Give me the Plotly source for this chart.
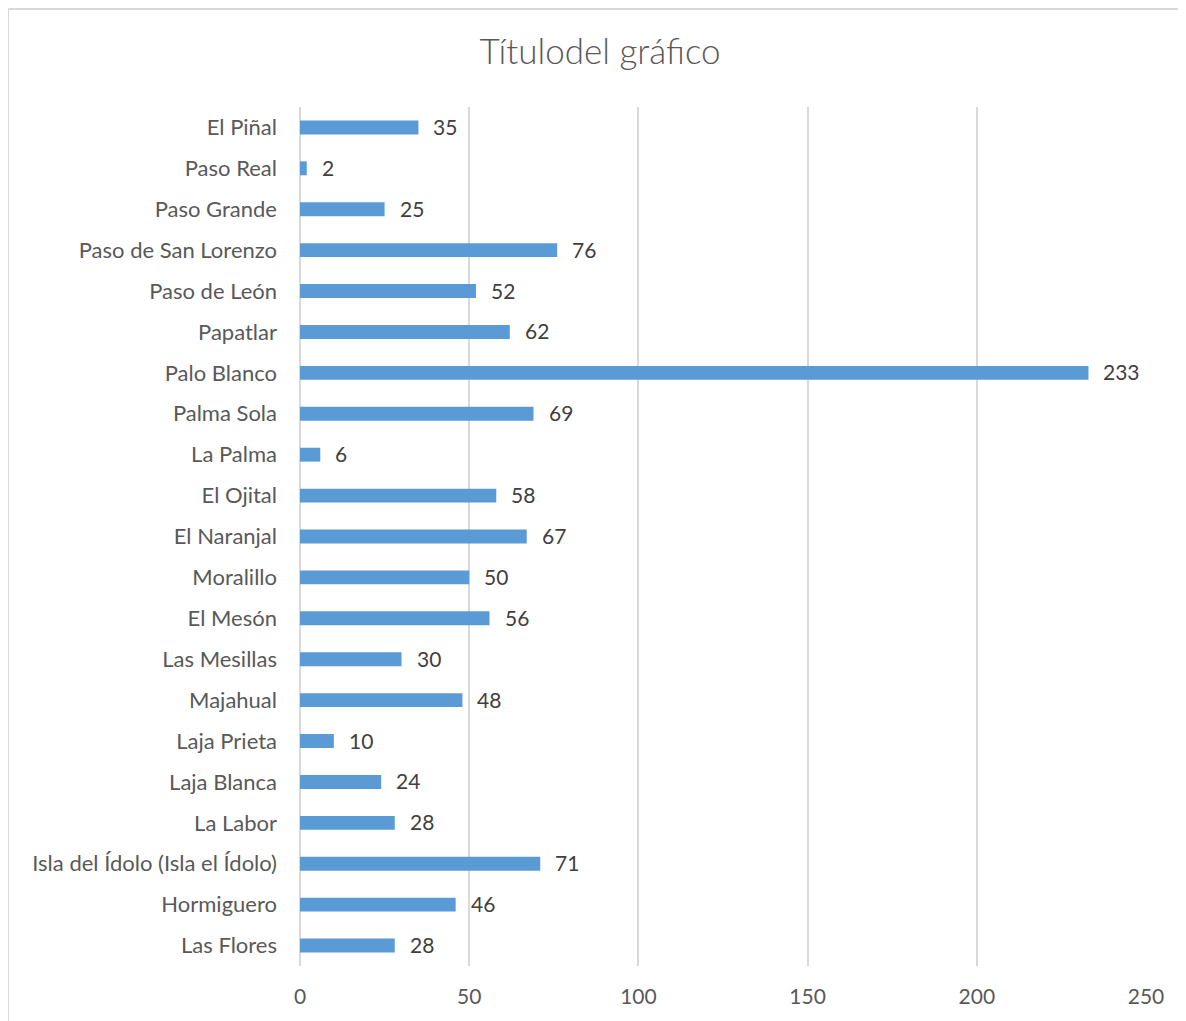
import plotly.graph_objects as go

# categories listed bottom to top, as drawn
categories = ['Las Flores', 'Hormiguero', 'Isla del Ídolo (Isla el Ídolo)', 'La Labor',
              'Laja Blanca', 'Laja Prieta', 'Majahual', 'Las Mesillas', 'El Mesón',
              'Moralillo', 'El Naranjal', 'El Ojital', 'La Palma', 'Palma Sola',
              'Palo Blanco', 'Papatlar', 'Paso de León', 'Paso de San Lorenzo',
              'Paso Grande', 'Paso Real', 'El Piñal']
values = [28, 46, 71, 28, 24, 10, 48, 30, 56, 50, 67, 58, 6, 69, 233, 62, 52, 76, 25, 2, 35]
x_ticks = [0, 50, 100, 150, 200, 250]

font_family = 'Lato, Open Sans, sans-serif'
text_grey = '#595959'
grid_grey = '#D9D9D9'

# page body has an 8px margin, so the figure is shrunk by that much
W, H = 1178, 1013

fig = go.Figure()
fig.add_trace(go.Bar(
    x=values, y=categories, orientation='h',
    marker=dict(color='#5B9BD5', line_width=0),
    width=0.34,
    hoverinfo='x+y',
))

# data labels to the right of each bar
annotations = []
for c, v in zip(categories, values):
    annotations.append(dict(x=v, y=c, xref='x', yref='y', text=str(v),
                            xanchor='left', yanchor='middle', xshift=13, yshift=1,
                            showarrow=False,
                            font=dict(family=font_family, size=21, color='#404040')))

# chart border (only top and left are visible in the crop)
bx = (8 - 300) / 846
by = 1 + (107 - 9) / 859
shapes = [
    dict(type='line', xref='paper', yref='paper', x0=bx, x1=bx, y0=-1, y1=by,
         line=dict(color=grid_grey, width=2)),
    dict(type='line', xref='paper', yref='paper', x0=bx, x1=2, y0=by, y1=by,
         line=dict(color=grid_grey, width=2)),
]

fig.update_layout(
    width=W, height=H,
    margin=dict(l=292, r=40, t=99, b=55),
    paper_bgcolor='white', plot_bgcolor='white',
    showlegend=False,
    title=dict(text='Títulodel gráfico', x=(600 - 8) / W, xref='container', xanchor='center',
               y=1 - 44 / H, yref='container', yanchor='middle',
               font=dict(family=font_family, size=35, color=text_grey, weight=300)),
    xaxis=dict(range=[0, 250], tickvals=x_ticks, showgrid=True, gridcolor=grid_grey,
               gridwidth=1.5, zeroline=True, zerolinecolor=grid_grey, zerolinewidth=1.5,
               showline=False, ticks='', ticklabelstandoff=16, fixedrange=True,
               tickfont=dict(family=font_family, size=21, color=text_grey)),
    yaxis=dict(categoryorder='array', categoryarray=categories, showgrid=False,
               zeroline=False, showline=False, ticks='', ticklabelstandoff=22,
               range=[-0.5, len(categories) - 0.5],
               tickfont=dict(family=font_family, size=22, color=text_grey)),
    annotations=annotations,
    shapes=shapes,
)

fig.write_html('out.html')
